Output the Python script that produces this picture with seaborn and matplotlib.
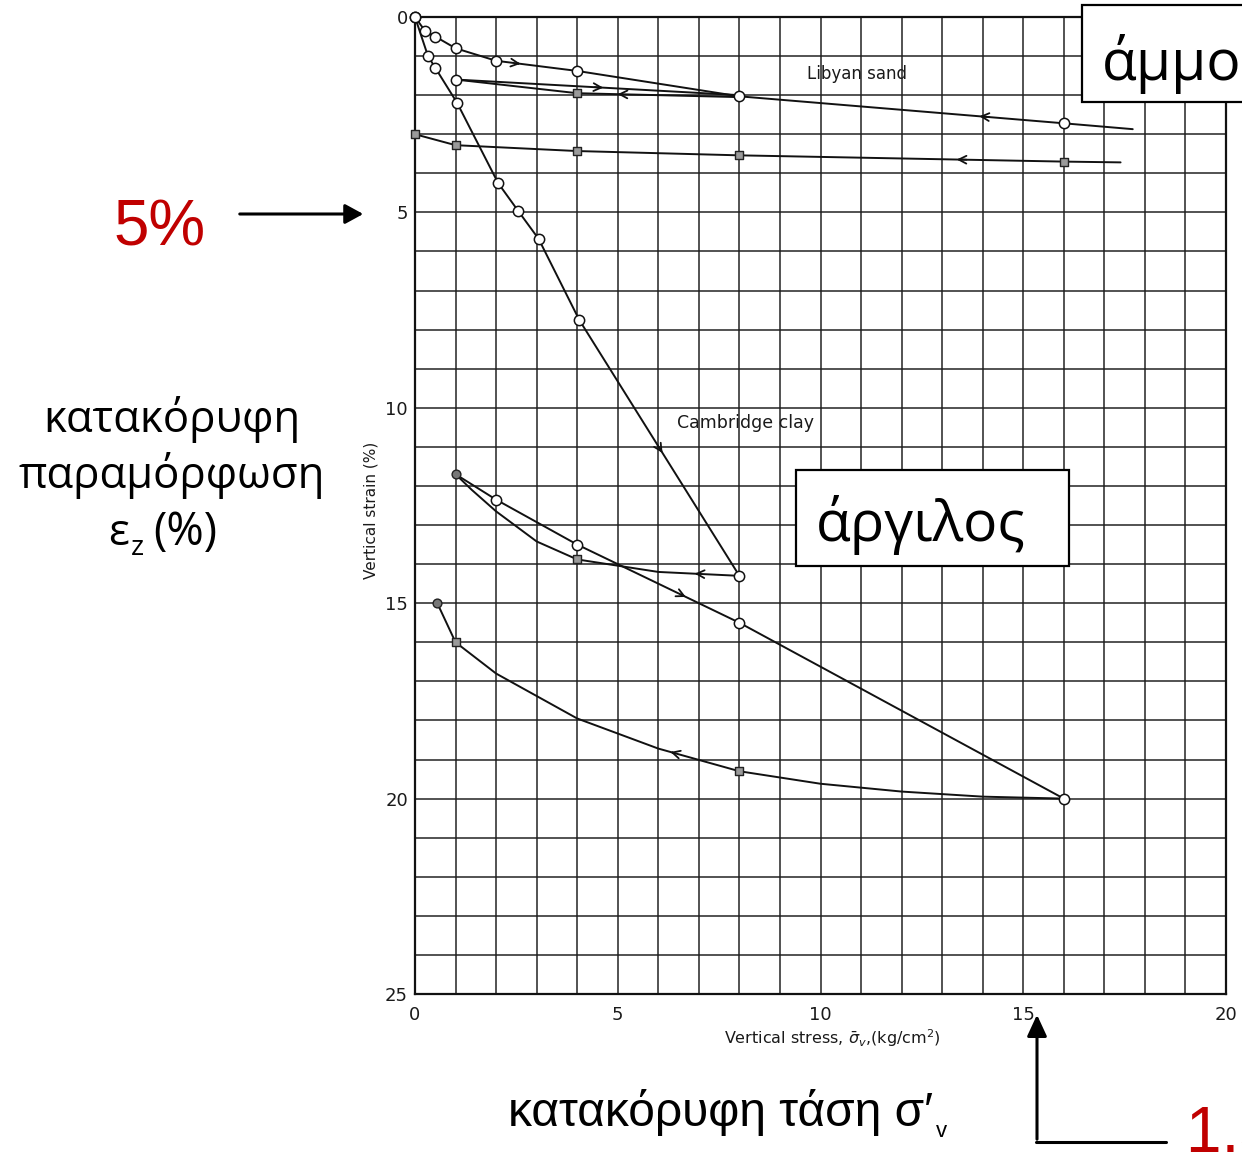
import numpy as np
import pandas as pd
import matplotlib
matplotlib.use("Agg")
import matplotlib.pyplot as plt
import seaborn as sns
from matplotlib.patches import Rectangle, FancyArrowPatch
from matplotlib.lines import Line2D

W, H = 1242, 1155

# ---------------- data (stress kg/cm2, vertical strain %) ----------------
sand_load_x = [0, 0.25, 0.5, 1, 2, 4, 8, 16, 17.7]
sand_load_y = [0, 0.36, 0.5, 0.8, 1.12, 1.38, 2.03, 2.72, 2.87]
sand_load_m = ['o', 'o', 'o', 'o', 'o', 'o', 'o', 'o', '']

sand_unload1_x = [8, 4, 1]
sand_unload1_y = [2.05, 1.95, 1.6]
sand_unload1_m = ['', 's', 'o']

sand_reload1_x = [1, 8]
sand_reload1_y = [1.6, 2.0]
sand_reload1_m = ['', '']

sand_unload2_x = [17.4, 16, 8, 4, 1, 0]
sand_unload2_y = [3.72, 3.7, 3.54, 3.43, 3.28, 3.0]
sand_unload2_m = ['', 's', 's', 's', 's', 's']

clay_load_x = [0, 0.32, 0.5, 1.04, 2.05, 2.55, 3.05, 4.05, 8]
clay_load_y = [0, 1.0, 1.3, 2.2, 4.25, 4.97, 5.68, 7.75, 14.3]
clay_load_m = ['o'] * 9

clay_unload1_x = [8, 6, 4, 3, 2, 1.4, 1]
clay_unload1_y = [14.3, 14.2, 13.88, 13.42, 12.65, 12.1, 11.7]
clay_unload1_m = ['', '', 's', '', '', '', 'd']

clay_reload1_x = [1, 2, 4, 8, 16]
clay_reload1_y = [11.7, 12.35, 13.5, 15.5, 20.0]
clay_reload1_m = ['', 'o', 'o', 'o', 'o']

clay_unload2_x = [16, 14, 12, 10, 8, 6, 4, 2, 1, 0.55]
clay_unload2_y = [20.0, 19.95, 19.82, 19.62, 19.3, 18.72, 17.95, 16.8, 16.0, 15.0]
clay_unload2_m = ['', '', '', '', 's', '', '', '', 's', 'd']

# arrows: (segment index, fraction along segment, direction +1 forward / -1 back)
sand_load_arrows = [(4, 0.3, 1), (6, 0.74, -1)]
sand_unload1_arrows = [(0, 0.75, 1)]
sand_reload1_arrows = [(0, 0.52, 1)]
sand_unload2_arrows = [(1, 0.33, 1)]
clay_load_arrows = [(7, 0.52, 1)]
clay_unload1_arrows = [(0, 0.55, 1)]
clay_reload1_arrows = [(2, 0.67, 1)]
clay_unload2_arrows = [(4, 0.85, 1)]

x_ticks = [0, 5, 10, 15, 20]
y_ticks = [0, 5, 10, 15, 20, 25]

series = [
    (sand_load_x, sand_load_y, sand_load_m, sand_load_arrows),
    (sand_unload1_x, sand_unload1_y, sand_unload1_m, sand_unload1_arrows),
    (sand_reload1_x, sand_reload1_y, sand_reload1_m, sand_reload1_arrows),
    (sand_unload2_x, sand_unload2_y, sand_unload2_m, sand_unload2_arrows),
    (clay_load_x, clay_load_y, clay_load_m, clay_load_arrows),
    (clay_unload1_x, clay_unload1_y, clay_unload1_m, clay_unload1_arrows),
    (clay_reload1_x, clay_reload1_y, clay_reload1_m, clay_reload1_arrows),
    (clay_unload2_x, clay_unload2_y, clay_unload2_m, clay_unload2_arrows),
]

# ---------------- figure ----------------
sns.set_style("white")
plt.rcParams['font.family'] = ['DejaVu Sans']
plt.rcParams['text.color'] = 'black'
plt.rcParams['axes.labelcolor'] = 'black'
plt.rcParams['xtick.color'] = 'black'
plt.rcParams['ytick.color'] = 'black'

fig = plt.figure(figsize=(W / 100, H / 100), dpi=100)
fig.patch.set_facecolor('white')
L, R, T, B = 415, 1226, 17, 994
ax = fig.add_axes([L / W, 1 - B / H, (R - L) / W, (B - T) / H])

ax.set_xlim(0, 20)
ax.set_ylim(25, 0)
ax.set_xticks(x_ticks)
ax.set_yticks(y_ticks)
ax.set_xticks(np.arange(0, 21, 1), minor=True)
ax.set_yticks(np.arange(0, 26, 1), minor=True)
ax.grid(which='both', color='#1e1e1e', lw=1.2, alpha=0.9)
ax.set_axisbelow(True)
ax.tick_params(which='both', length=0)
ax.tick_params(axis='x', labelsize=13, pad=9, colors='#1a1a1a')
ax.tick_params(axis='y', labelsize=13, pad=5, colors='#1a1a1a')
for sp in ax.spines.values():
    sp.set_color('#111111')
    sp.set_linewidth(1.6)

for xs, ys, ms, arrows in series:
    df = pd.DataFrame({'stress': xs, 'strain': ys})
    sns.lineplot(data=df, x='stress', y='strain', sort=False, estimator=None,
                 color='#111111', lw=1.4, ax=ax, zorder=3)
    dm = pd.DataFrame({'stress': xs, 'strain': ys, 'm': ms})
    circ = dm[dm.m == 'o']
    sq = dm[dm.m == 's']
    dot = dm[dm.m == 'd']
    if len(circ):
        sns.scatterplot(data=circ, x='stress', y='strain', marker='o', s=55,
                        facecolor='white', edgecolor='#111111', linewidth=1.1,
                        ax=ax, zorder=5, clip_on=False)
    if len(sq):
        sns.scatterplot(data=sq, x='stress', y='strain', marker='s', s=38,
                        facecolor='#9a9a9a', edgecolor='#222222', linewidth=1.0,
                        ax=ax, zorder=5, clip_on=False)
    if len(dot):
        sns.scatterplot(data=dot, x='stress', y='strain', marker='o', s=40,
                        facecolor='#777777', edgecolor='#222222', linewidth=1.0,
                        ax=ax, zorder=5, clip_on=False)
    for i, t, d in arrows:
        x0, y0, x1, y1 = xs[i], ys[i], xs[i + 1], ys[i + 1]
        px, py = x0 + t * (x1 - x0), y0 + t * (y1 - y0)
        e = 0.03 * d
        tx, ty = px - e * (x1 - x0), py - e * (y1 - y0)
        ax.annotate('', xy=(px, py), xytext=(tx, ty),
                    arrowprops=dict(arrowstyle='->,head_length=0.55,head_width=0.28',
                                    lw=1.3, color='#111111', shrinkA=0, shrinkB=0),
                    zorder=4)

ax.set_xlabel(r'Vertical stress, $\bar{\sigma}_v$,(kg/cm$^2$)', fontsize=11.5,
              color='#1a1a1a', va='center')
ax.xaxis.set_label_coords((832 - L) / (R - L), -(1038 - B) / (B - T))
ax.set_ylabel('Vertical strain (%)', fontsize=11, color='#1a1a1a', va='center')
ax.yaxis.set_label_coords((371 - L) / (R - L), (B - 510) / (B - T))

ax.text(10.9, 1.45, 'Libyan sand', fontsize=12, ha='center', va='center', color='#1a1a1a',
        zorder=6)
ax.text(8.15, 10.4, 'Cambridge clay', fontsize=12.5, ha='center', va='center',
        color='#1a1a1a', zorder=6)

# ---------------- annotations (figure pixel coords) ----------------
def fx(p):
    return p / W

def fy(p):
    return 1 - p / H

RED = '#C00000'
GR = ['Open Sans', 'DejaVu Sans']
AR = ['Liberation Sans', 'DejaVu Sans']

fig.text(fx(113), fy(245), '5%', fontsize=46, color=RED, ha='left', va='baseline',
         family=AR)
fig.add_artist(FancyArrowPatch((fx(237), fy(214)), (fx(366), fy(214)),
                               transform=fig.transFigure,
                               arrowstyle='-|>,head_length=0.55,head_width=0.3',
                               mutation_scale=20, lw=2.2, color='black'))

fig.text(fx(172), fy(432), 'κατακόρυφη', fontsize=31.5, ha='center', va='baseline',
         family=GR, color='black')
fig.text(fx(172), fy(488), 'παραμόρφωση', fontsize=31.5, ha='center', va='baseline',
         family=GR, color='black')
fig.text(fx(108), fy(545), 'ε', fontsize=31.5, ha='left', va='baseline', family=GR,
         color='black')
fig.text(fx(131), fy(555), 'z', fontsize=20, ha='left', va='baseline', family=GR,
         color='black')
fig.text(fx(153), fy(545), '(%)', fontsize=32.5, ha='left', va='baseline', family=GR,
         color='black')

fig.text(fx(933), fy(1126), 'κατακόρυφη τάση σ′', fontsize=34.5, ha='right',
         va='baseline', family=AR, color='black')
fig.text(fx(936), fy(1137), 'v', fontsize=16, ha='left', va='baseline', family=AR,
         color='black')

fig.add_artist(FancyArrowPatch((fx(1037), fy(1142)), (fx(1037), fy(1012)),
                               transform=fig.transFigure,
                               arrowstyle='-|>,head_length=0.65,head_width=0.3',
                               mutation_scale=20, lw=2.2, color='black'))
fig.add_artist(Line2D([fx(1036), fx(1166)], [fy(1142), fy(1142)], transform=fig.transFigure,
                      color='black', lw=2.2))
fig.text(fx(1186), fy(1152), '1.5 MPa', fontsize=46, color=RED, ha='left', va='baseline',
         family=AR)

# boxes
fig.add_artist(Rectangle((fx(796), fy(566)), 273 / W, 96 / H, transform=fig.transFigure,
                         facecolor='white', edgecolor='black', lw=1.6, zorder=10))
fig.text(fx(816), fy(541), 'άργιλος', fontsize=41, ha='left', va='baseline', family=GR,
         zorder=11, color='black')
fig.add_artist(Rectangle((fx(1082), fy(102)), 220 / W, 97 / H, transform=fig.transFigure,
                         facecolor='white', edgecolor='black', lw=1.6, zorder=10))
fig.text(fx(1102), fy(80), 'άμμος', fontsize=41, ha='left', va='baseline', family=GR,
         zorder=11, color='black')

fig.savefig('out.png', dpi=100, facecolor='white')
